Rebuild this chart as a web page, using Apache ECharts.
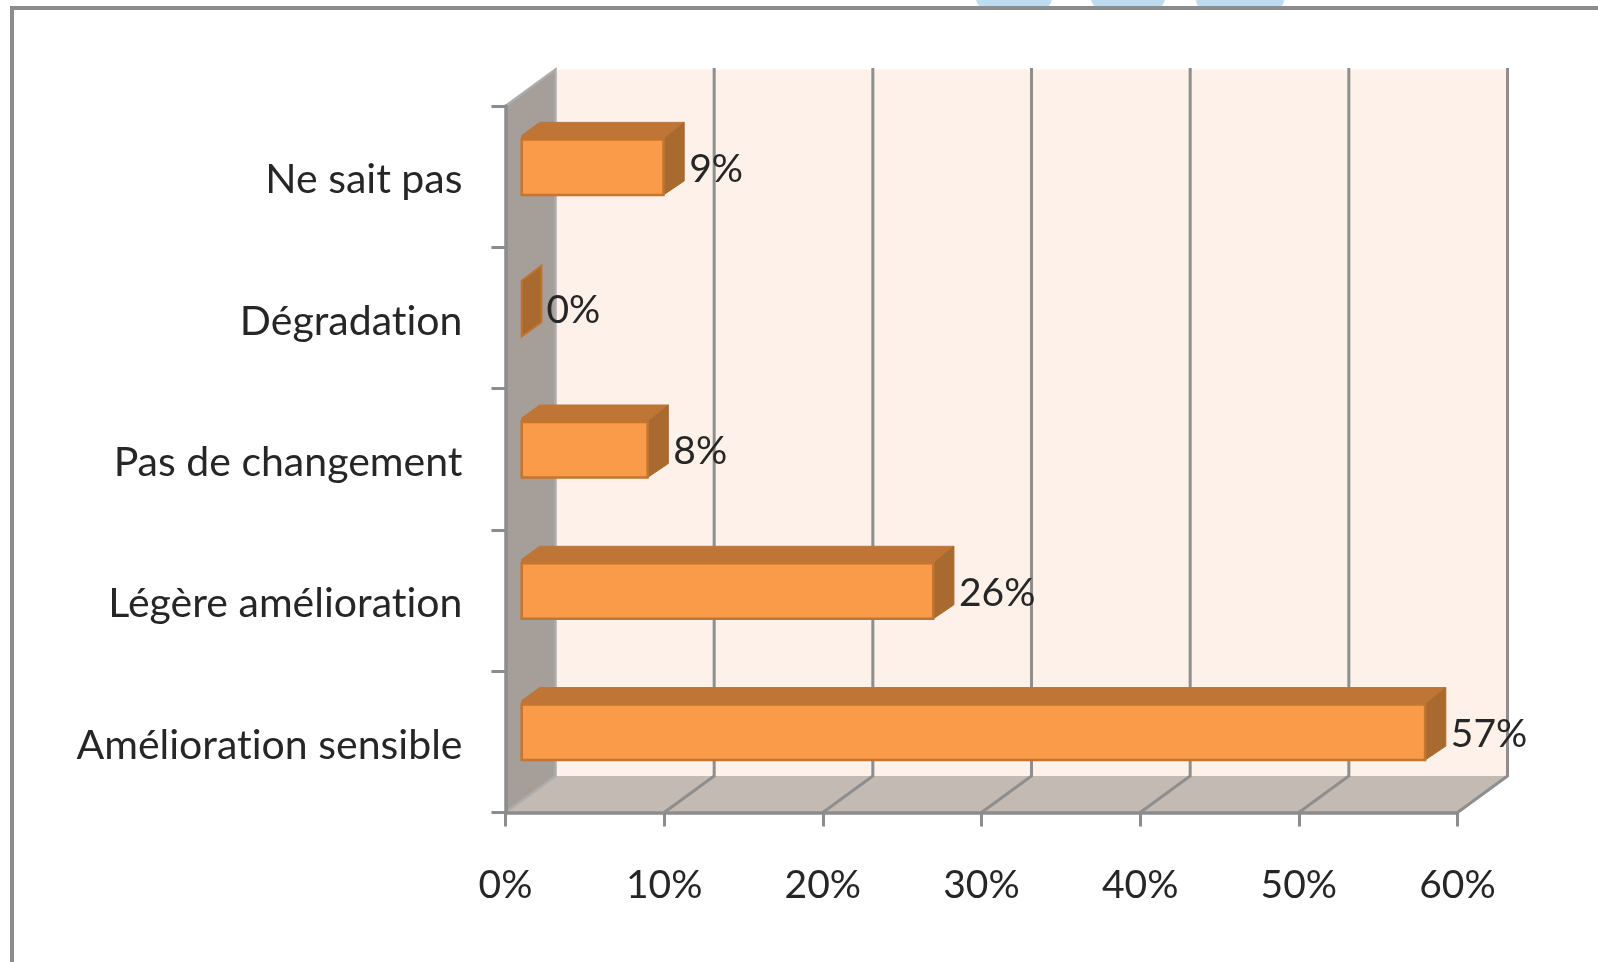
<!DOCTYPE html>
<html><head><meta charset="utf-8">
<style>html,body{margin:0;padding:0;background:#fff}#c{width:1598px;height:962px;filter:blur(0.55px)}</style>
<script src="https://cdn.jsdelivr.net/npm/echarts@6/dist/echarts.min.js"></script>
</head><body><div id="c"></div>
<script>
const categories = ['Amélioration sensible','Légère amélioration','Pas de changement','Dégradation','Ne sait pas'];
const values = [57,26,8,0,9];
const xTicks = [0,10,20,30,40,50,60];

const FONT = 'Lato, Carlito, sans-serif';
const TXT = '#262626', GRID = '#8e8e8e';
const WALL_DX = 50, WALL_DY = 36.5;

// Tiny letter spacing switches off the "ti" ligature, which the reference does not have.
const fillTextOrig = CanvasRenderingContext2D.prototype.fillText;
CanvasRenderingContext2D.prototype.fillText = function(){
  this.letterSpacing = '0.01px';
  return fillTextOrig.apply(this, arguments);
};

function poly(points, fill, stroke, lw){
  return {type:'polygon', shape:{points}, style:{fill, stroke:stroke||fill, lineWidth:lw||0}};
}
function line(pts, color, w){
  return {type:'polyline', shape:{points:pts}, style:{fill:'none', stroke:color, lineWidth:w}};
}
function renderWalls(params, api){
  const g = params.coordSys;
  const L=g.x, R=g.x+g.width, T=g.y, B=g.y+g.height;
  const ch = [
    poly([[L+WALL_DX,T-WALL_DY],[R+WALL_DX,T-WALL_DY],[R+WALL_DX,B-WALL_DY],[L+WALL_DX,B-WALL_DY]],'#FDF1E9'),
    poly([[L,B],[L+WALL_DX,B-WALL_DY],[R+WALL_DX,B-WALL_DY],[R,B]],'#C3BAB4'),
    poly([[L,T],[L+WALL_DX,T-WALL_DY],[L+WALL_DX,B-WALL_DY],[L,B]],'#A69E98'),
    line([[L,T],[L+WALL_DX,T-WALL_DY],[L+WALL_DX,B-WALL_DY],[L,B]],'#adadad',2.5)
  ];
  xTicks.slice(1).forEach(v=>{
    const x = api.coord([v,0])[0];
    ch.push(line([[x+WALL_DX,T-WALL_DY-1.5],[x+WALL_DX,B-WALL_DY],[x,B]],GRID,3));
  });
  return {type:'group', children:ch};
}
function renderBar(params, api){
  const v = api.value(0);
  const base = api.coord([0, api.value(1)]);
  const end = api.coord([v, api.value(1)]);
  const band = api.size([0,1])[1];
  const h = band*0.393, offX = 15.2, offY = -9.5;
  const x0 = base[0]+offX+1, x1 = end[0]+offX;
  const ft = base[1]+offY-h/2, fb = ft+h;
  const dx = 20.7, dTop = 17, dBot = 14;
  const ch = [];
  const edge = '#C47530';
  if (v > 0) {
    ch.push(poly([[x0,ft],[x0,ft-4],[x0+18,ft-dTop],[x1+dx,ft-dTop],[x1,ft]],'#BF7536','#BF7536',1));
  }
  ch.push(poly([[x1+(v>0?0:1),ft],[x1+dx,ft-dTop+(v>0?0:2)],[x1+dx,fb-dBot],[x1+(v>0?0:1),fb]],'#A96A30',v>0?'#A96A30':'#BC7433',v>0?1:2));
  if (v > 0) {
    ch.push({type:'rect',shape:{x:x0,y:ft,width:x1-x0,height:h},style:{fill:'#F99B49',stroke:edge,lineWidth:2.5}});
  }
  ch.push({type:'text',style:{text:v+'%',x:x1+dx+5,y:base[1]+offY+2,font:'39px '+FONT,fill:TXT,textAlign:'left',textVerticalAlign:'middle'}});
  return {type:'group',children:ch};
}

const chart = echarts.init(document.getElementById('c'),null,{renderer:'canvas'});
chart.setOption({
  animation:false,
  backgroundColor:'#fff',
  grid:{left:505.5,width:952,top:106,height:706.5},
  xAxis:{type:'value',min:0,max:60,interval:10,z:3,
    axisLine:{show:true,lineStyle:{color:'#8c8c8c',width:3.5}},
    axisTick:{show:true,length:14,lineStyle:{color:'#8c8c8c',width:3}},
    splitLine:{show:false},
    axisLabel:{margin:53,color:TXT,fontFamily:FONT,fontSize:39,formatter:'{value}%',hideOverlap:false,showMinLabel:true,showMaxLabel:true}},
  yAxis:{type:'category',data:categories,z:3,
    axisLine:{show:true,lineStyle:{color:'#8c8c8c',width:3.5}},
    axisTick:{show:true,length:14,alignWithLabel:false,lineStyle:{color:'#8c8c8c',width:3}},
    splitLine:{show:false},
    axisLabel:{margin:43,color:TXT,fontFamily:FONT,fontSize:41,interval:0,
      formatter:'{a|{value}}',
      rich:{a:{color:TXT,fontFamily:FONT,fontSize:41,padding:[7,0,0,0]}}}},
  series:[
    {type:'custom',z:1,clip:false,silent:true,data:[[0,0]],renderItem:renderWalls,encode:{x:0,y:1}},
    {type:'custom',z:4,clip:false,data:values.map((v,i)=>[v,i]),renderItem:renderBar,encode:{x:0,y:1}}
  ],
  graphic:{elements:[
    {type:'rect',z:0,shape:{x:976,y:-14,width:76,height:24,r:14},style:{fill:'#BEDCF0'}},
    {type:'rect',z:0,shape:{x:1091,y:-14,width:74,height:24,r:14},style:{fill:'#BEDCF0'}},
    {type:'rect',z:0,shape:{x:1196,y:-14,width:88,height:24,r:10},style:{fill:'#BEDCF0'}},
    {type:'rect',z:1,shape:{x:0,y:0,width:12,height:962},style:{fill:'#fff'}},
    {type:'polyline',z:1,shape:{points:[[12,962],[12,8],[1598,8]]},style:{fill:'none',stroke:'#8c8c8c',lineWidth:4}}
  ]}
});
</script></body></html>
